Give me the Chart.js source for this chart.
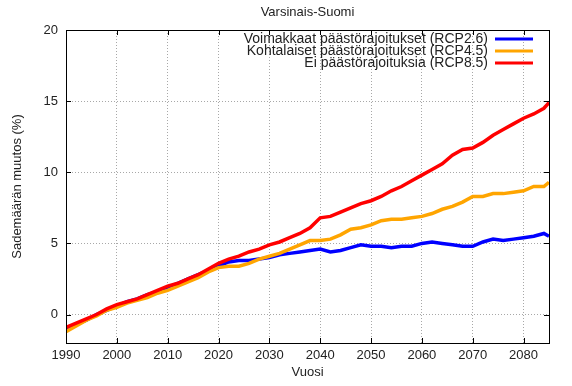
<!DOCTYPE html>
<html lang="fi">
<head>
<meta charset="UTF-8" />
<title>Varsinais-Suomi</title>
<script src="https://cdn.jsdelivr.net/npm/chart.js"></script>
<style>
  html, body { margin: 0; padding: 0; background: #fff; }
  #wrap { width: 572px; height: 386px; }
</style>
</head>
<body>
<div id="wrap"><canvas id="chart" width="572" height="386"></canvas></div>
<script>
const years = [1990,1992,1994,1996,1998,2000,2002,2004,2006,2008,2010,2012,2014,2016,2018,2020,2022,2024,2026,2028,2030,2032,2034,2036,2038,2040,2042,2044,2046,2048,2050,2052,2054,2056,2058,2060,2062,2064,2066,2068,2070,2072,2074,2076,2078,2080,2082,2084,2085];

const rcp26 = [-1.0,-0.7,-0.4,0.0,0.3,0.6,0.9,1.1,1.4,1.6,1.9,2.2,2.5,2.8,3.1,3.4,3.7,3.8,3.8,3.9,4.0,4.2,4.3,4.4,4.5,4.6,4.4,4.5,4.7,4.9,4.8,4.8,4.7,4.8,4.8,5.0,5.1,5.0,4.9,4.8,4.8,5.1,5.3,5.2,5.3,5.4,5.5,5.7,5.5];
const rcp45 = [-1.2,-0.8,-0.4,-0.1,0.3,0.5,0.8,1.0,1.2,1.5,1.7,2.0,2.3,2.6,3.0,3.3,3.4,3.4,3.6,3.9,4.1,4.3,4.6,4.9,5.2,5.2,5.3,5.6,6.0,6.1,6.3,6.6,6.7,6.7,6.8,6.9,7.1,7.4,7.6,7.9,8.3,8.3,8.5,8.5,8.6,8.7,9.0,9.0,9.3];
const rcp85 = [-0.9,-0.6,-0.3,0.0,0.4,0.7,0.9,1.1,1.4,1.7,2.0,2.2,2.5,2.8,3.2,3.6,3.9,4.1,4.4,4.6,4.9,5.1,5.4,5.7,6.1,6.8,6.9,7.2,7.5,7.8,8.0,8.3,8.7,9.0,9.4,9.8,10.2,10.6,11.2,11.6,11.7,12.1,12.6,13.0,13.4,13.8,14.1,14.5,14.9];

const seriesLabels = ['Voimakkaat päästörajoitukset (RCP2.6)', 'Kohtalaiset päästörajoitukset (RCP4.5)', 'Ei päästörajoituksia (RCP8.5)'];
const seriesColors = ['#0000ff', '#ffa500', '#ff0000'];
const xTicks = [1990,2000,2010,2020,2030,2040,2050,2060,2070,2080];
const yTicks = [0,5,10,15,20];

const FONT = '"Liberation Sans", Arial, sans-serif';
const toPoints = vals => vals.map((v, i) => ({ x: years[i], y: v }));

// gnuplot-like frame, inner ticks, title and legend
const gnuplotLook = {
  id: 'gnuplotLook',
  afterDatasetsDraw(chart) {
    const { ctx, chartArea: a, scales } = chart;
    ctx.save();
    ctx.strokeStyle = '#000';
    ctx.lineWidth = 1;
    ctx.beginPath();
    xTicks.forEach(t => {
      const x = Math.round(scales.x.getPixelForValue(t)) + 0.5;
      ctx.moveTo(x, a.bottom); ctx.lineTo(x, a.bottom - 5);
      ctx.moveTo(x, a.top); ctx.lineTo(x, a.top + 5);
    });
    yTicks.forEach(t => {
      const y = Math.round(scales.y.getPixelForValue(t)) + 0.5;
      ctx.moveTo(a.left, y); ctx.lineTo(a.left + 5, y);
      ctx.moveTo(a.right, y); ctx.lineTo(a.right - 5, y);
    });
    ctx.stroke();
    ctx.strokeRect(Math.round(a.left) + 0.5, Math.round(a.top) + 0.5, Math.round(a.right - a.left), Math.round(a.bottom - a.top));

    // title
    ctx.fillStyle = '#222';
    ctx.font = '13px ' + FONT;
    ctx.textAlign = 'center';
    ctx.textBaseline = 'middle';
    ctx.fillText('Varsinais-Suomi', (a.left + a.right) / 2, 12);

    // legend: text right-aligned, sample line on the right
    ctx.font = '14px ' + FONT;
    ctx.textAlign = 'right';
    seriesLabels.forEach((lab, i) => {
      const y = 39 + i * 12;
      ctx.fillStyle = '#222';
      ctx.fillText(lab, 488, y + 0.5);
      ctx.strokeStyle = seriesColors[i];
      ctx.lineWidth = 3;
      ctx.beginPath();
      ctx.moveTo(495, y); ctx.lineTo(533, y);
      ctx.stroke();
    });
    ctx.restore();
  }
};

const ctx = document.getElementById('chart').getContext('2d');

new Chart(ctx, {
  type: 'line',
  data: {
    datasets: [rcp26, rcp45, rcp85].map((vals, i) => ({
      label: seriesLabels[i],
      data: toPoints(vals),
      borderColor: seriesColors[i],
      borderWidth: 3.5,
      pointRadius: 0,
      tension: 0,
      fill: false,
      order: 2 - i
    }))
  },
  options: {
    responsive: false,
    animation: false,
    layout: { padding: { left: 6, right: 23, top: 30, bottom: 0 } },
    plugins: {
      legend: { display: false },
      title: { display: false },
      tooltip: { enabled: false }
    },
    scales: {
      x: {
        type: 'linear',
        min: 1990,
        max: 2085,
        afterBuildTicks: s => { s.ticks = xTicks.map(v => ({ value: v })); },
        afterFit: s => { s.height = 43; },
        ticks: { font: { size: 13, family: FONT }, color: '#222', padding: 5, maxRotation: 0, callback: v => String(v) },
        grid: { color: '#a8a8a8', drawTicks: false, lineWidth: 1 },
        border: { display: false, dash: [1, 2] },
        title: { display: true, text: 'Vuosi', font: { size: 13, family: FONT }, color: '#222', padding: { top: 2, bottom: 6 } }
      },
      y: {
        min: -2,
        max: 20,
        afterBuildTicks: s => { s.ticks = yTicks.map(v => ({ value: v })); },
        afterFit: s => { s.width = 60; },
        ticks: { font: { size: 13, family: FONT }, color: '#222', padding: 8 },
        grid: { color: '#a8a8a8', drawTicks: false, lineWidth: 1 },
        border: { display: false, dash: [1, 2] },
        title: { display: true, text: 'Sademäärän muutos (%)', font: { size: 13, family: FONT }, color: '#222', padding: { top: 4, bottom: 4 } }
      }
    }
  },
  plugins: [gnuplotLook]
});
</script>
</body>
</html>
